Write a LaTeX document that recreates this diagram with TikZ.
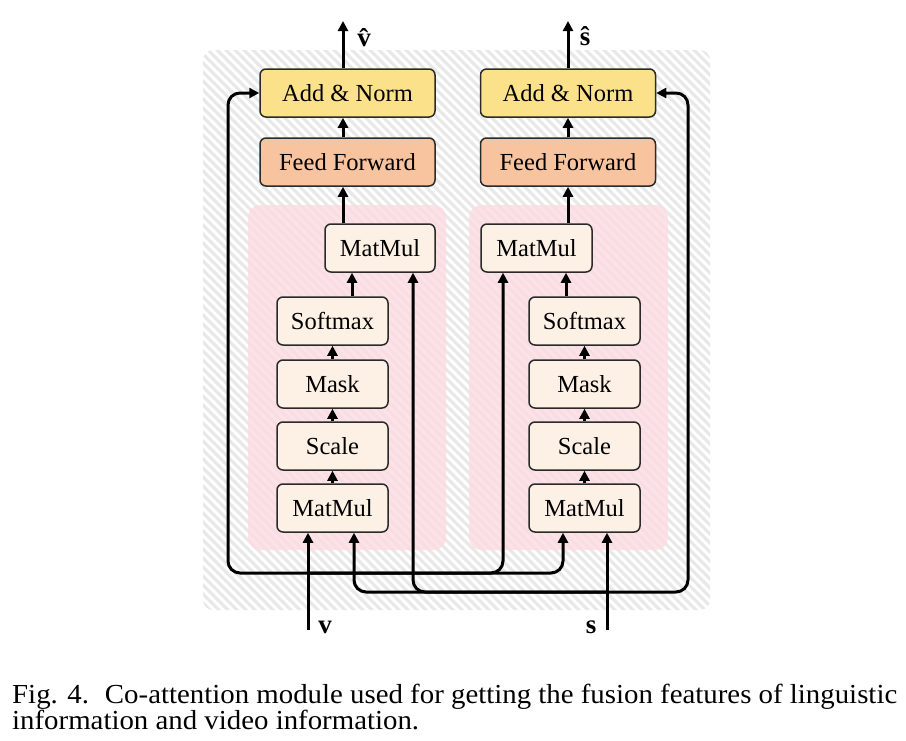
\documentclass[tikz,border=0pt]{standalone}
\usepackage{fontspec}
\setmainfont{Liberation Serif}
\usepackage{graphicx}
\usetikzlibrary{arrows.meta,calc}
\definecolor{addcol}{HTML}{FBE18A}
\definecolor{ffcol}{HTML}{F8C4A0}
\definecolor{smallcol}{HTML}{FDF0E5}
\definecolor{panelcol}{HTML}{FCDCE2}
\definecolor{edgecol}{HTML}{2A2A2A}
\begin{document}
\begin{tikzpicture}[x=1pt,y=-1pt,
  box/.style={draw=edgecol, line width=1.5pt, rounded corners=6pt, minimum height=48pt, inner sep=0pt, font=\fontsize{24.5}{28}\selectfont},
  addbox/.style={box, fill=addcol, minimum width=175pt},
  ffbox/.style={box, fill=ffcol, minimum width=175pt},
  smallbox/.style={box, fill=smallcol, minimum width=111pt},
  arr/.style={line width=3pt, -{Triangle[length=10pt,width=10pt]}},
  bus/.style={arr, rounded corners=12pt},
  hatch/.style={line width=3pt, color=black!9},
  panel/.style={fill=panelcol, fill opacity=0.8, rounded corners=12pt},
  lab/.style={font=\fontsize{27}{30}\selectfont\bfseries, inner sep=0pt}]
\useasboundingbox (0,0) rectangle (906,740);
% hatched background
\begin{scope}
  \clip[rounded corners=10pt] (203,50) rectangle (710,610);
  \fill[white] (203,50) rectangle (710,610);
  \foreach \i in {-576,-567,...,510} \draw[hatch] (\i+203,45) -- ++(570,570);
\end{scope}
% pink panels
\fill[panel] (248,205) rectangle (446,550);
\fill[panel] (469,205) rectangle (668,550);
% nodes
\node[addbox] (addL) at (347.5,93) {Add \& Norm};
\node[addbox] (addR) at (568,93) {Add \& Norm};
\node[ffbox] (ffL) at (347.5,162) {Feed Forward};
\node[ffbox] (ffR) at (568,162) {Feed Forward};
\node[smallbox, minimum width=110pt] (mmL2) at (380,248) {MatMul};
\node[smallbox] (mmR2) at (536.5,248) {MatMul};
\node[smallbox] (smL) at (332.5,321) {Softmax};
\node[smallbox] (maskL) at (332.5,384) {Mask};
\node[smallbox] (scL) at (332.5,446) {Scale};
\node[smallbox] (mmL1) at (332.5,508) {MatMul};
\node[smallbox] (smR) at (584.5,321) {Softmax};
\node[smallbox] (maskR) at (584.5,384) {Mask};
\node[smallbox] (scR) at (584.5,446) {Scale};
\node[smallbox] (mmR1) at (584.5,508) {MatMul};
% outputs and inputs
\coordinate (outL) at (343,21);
\coordinate (outR) at (568,21);
\coordinate (vin) at (308,630);
\coordinate (sin) at (607,630);
\coordinate (Jv) at (308,573);
\coordinate (Js) at (607,592);
\coordinate (rL) at (228,573);
\coordinate (rR) at (688,592);
\node[lab] (vhat) at (364,38) {\^{v}};
\node[lab] (shat) at (585,36) {\^{s}};
\node[lab] (vlab) at (325,627) {v};
\node[lab] (slab) at (591,627) {s};
% main vertical arrows
\draw[arr] ([xshift=-4.5pt]addL.north) -- (outL);
\draw[arr] (addR.north) -- (outR);
\draw[arr] ([xshift=-4.5pt]ffL.north) -- ([xshift=-4.5pt]addL.south);
\draw[arr] (ffR.north) -- (addR.south);
\draw[arr] ([xshift=-37pt]mmL2.north) -- ([xshift=-4.5pt]ffL.south);
\draw[arr] ([xshift=31.5pt]mmR2.north) -- (ffR.south);
% stacks
\draw[arr] (mmL1.north) -- (scL.south);
\draw[arr] (scL.north) -- (maskL.south);
\draw[arr] (maskL.north) -- (smL.south);
\draw[arr] ([xshift=19.5pt]smL.north) -- ([xshift=-28pt]mmL2.south);
\draw[arr] (mmR1.north) -- (scR.south);
\draw[arr] (scR.north) -- (maskR.south);
\draw[arr] (maskR.north) -- (smR.south);
\draw[arr] ([xshift=-18.5pt]smR.north) -- ([xshift=29.5pt]mmR2.south);
% v inputs
\draw[arr] (vin) -- ([xshift=-24.5pt]mmL1.south);
\draw[bus] (Jv) -- (rL) -- (rL |- addL.west) -- (addL.west);
\draw[bus] (Jv) -| ([xshift=-21.5pt]mmR1.south);
\draw[bus] (Jv) -| ([xshift=-33.5pt]mmR2.south);
% s inputs
\draw[arr] (sin) -- ([xshift=22.5pt]mmR1.south);
\draw[bus] (Js) -- (rR) -- (rR |- addR.east) -- (addR.east);
\draw[bus] (Js) -| ([xshift=21.5pt]mmL1.south);
\draw[bus] (Js) -| ([xshift=33pt]mmL2.south);
% caption
\node[anchor=base west, inner sep=0pt] (cap) at (12,703) {\fontsize{27.5}{24.5}\selectfont\resizebox{885pt}{\height}{\begin{tabular}[t]{@{}l@{}}Fig. 4.\hspace{0.55em}Co-attention module used for getting the fusion features of linguistic\\ information and video information.\end{tabular}}};
\end{tikzpicture}
\end{document}
